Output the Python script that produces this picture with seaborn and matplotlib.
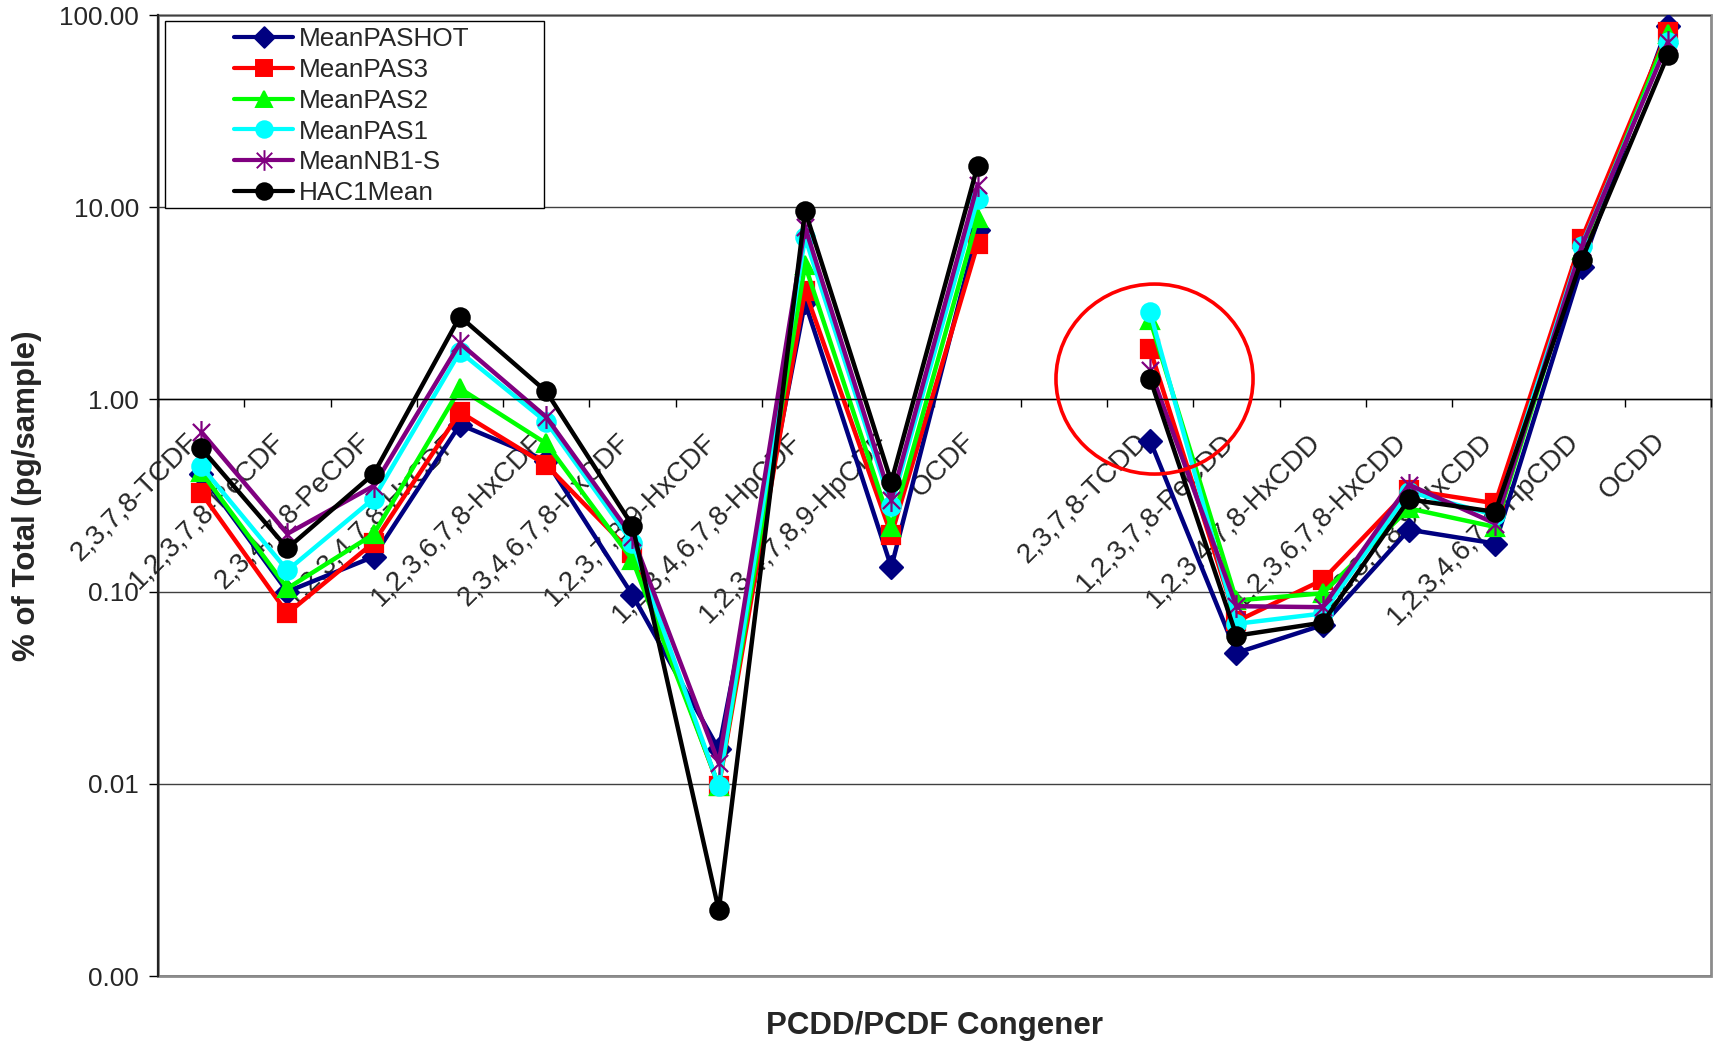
import numpy as np
import pandas as pd
import matplotlib
matplotlib.use("Agg")
import matplotlib.pyplot as plt
import matplotlib.transforms as mtransforms
from matplotlib.path import Path
from matplotlib.lines import Line2D
from matplotlib.patches import Ellipse, Rectangle
import seaborn as sns

sns.set_theme(style="white")
plt.rcParams["font.family"] = ["Liberation Sans", "DejaVu Sans"]

# congeners, with an empty slot between the furans and the dioxins
congeners = ["2,3,7,8-TCDF", "1,2,3,7,8-PeCDF", "2,3,4,7,8-PeCDF", "1,2,3,4,7,8-HxCDF",
             "1,2,3,6,7,8-HxCDF", "2,3,4,6,7,8-HxCDF", "1,2,3,7,8,9-HxCDF",
             "1,2,3,4,6,7,8-HpCDF", "1,2,3,4,7,8,9-HpCDF", "OCDF", "",
             "2,3,7,8-TCDD", "1,2,3,7,8-PeCDD", "1,2,3,4,7,8-HxCDD", "1,2,3,6,7,8-HxCDD",
             "1,2,3,7,8,9-HxCDD", "1,2,3,4,6,7,8-HpCDD", "OCDD"]
groups = ["PCDF"] * 10 + [""] + ["PCDD"] * 7

series = ["MeanPASHOT", "MeanPAS3", "MeanPAS2", "MeanPAS1", "MeanNB1-S", "HAC1Mean"]
nan = np.nan
pashot = [0.41, 0.10, 0.152, 0.74, 0.48, 0.096, 0.0151, 3.2, 0.134, 7.6, nan,
          0.61, 0.048, 0.067, 0.21, 0.178, 4.9, 88.0]
pas3 = [0.327, 0.077, 0.18, 0.86, 0.456, 0.158, 0.0097, 3.68, 0.197, 6.4, nan,
        1.82, 0.070, 0.115, 0.338, 0.288, 6.8, 82.0]
pas2 = [0.42, 0.104, 0.199, 1.14, 0.59, 0.146, 0.0098, 5.0, 0.217, 8.8, nan,
        2.59, 0.090, 0.098, 0.271, 0.217, 6.0, 80.0]
pas1 = [0.45, 0.129, 0.305, 1.77, 0.765, 0.18, 0.0097, 6.98, 0.28, 11.0, nan,
        2.84, 0.068, 0.077, 0.331, 0.25, 6.3, 72.6]
nb1s = [0.68, 0.20, 0.355, 1.96, 0.81, 0.193, 0.0128, 7.9, 0.30, 13.1, nan,
        1.42, 0.084, 0.083, 0.36, 0.226, 6.2, 72.0]
hac1 = [0.557, 0.168, 0.41, 2.7, 1.10, 0.22, 0.0022, 9.6, 0.373, 16.4, nan,
        1.28, 0.059, 0.069, 0.302, 0.26, 5.3, 61.8]

colors = ["#000080", "#FF0000", "#00FF00", "#00FFFF", "#800080", "#000000"]

# Excel style diamond and asterisk (custom paths are scaled to the marker size)
diamond = Path([(0, 1), (1, 0), (0, -1), (-1, 0), (0, 1)],
               [Path.MOVETO, Path.LINETO, Path.LINETO, Path.LINETO, Path.CLOSEPOLY])
star = Path([(0, -1), (0, 1), (-0.75, -0.75), (0.75, 0.75), (-0.75, 0.75), (0.75, -0.75)],
            [Path.MOVETO, Path.LINETO, Path.MOVETO, Path.LINETO, Path.MOVETO, Path.LINETO])
marker_list = [diamond, "s", "^", "o", star, "o"]
# the custom markers need a bigger nominal size to look as big as the others
marker_sizes = [16.5, 13.2, 13.2, 13.2, 16.5, 13.2]

rows = []
for name, vals in zip(series, [pashot, pas3, pas2, pas1, nb1s, hac1]):
    for i, v in enumerate(vals):
        if not np.isnan(v):
            rows.append({"series": name, "pos": i, "value": v, "group": groups[i]})
df = pd.DataFrame(rows)

fig = plt.figure(figsize=(17.19, 10.44), dpi=100)
ax = fig.add_axes([0.0919, 0.0651, 0.9034, 0.9205])

sns.lineplot(data=df, x="pos", y="value", hue="series", style="series", units="group",
             estimator=None, hue_order=series, style_order=series,
             palette=dict(zip(series, colors)), markers=dict(zip(series, marker_list)),
             dashes=False, linewidth=3.2, markersize=13, markeredgewidth=1.6,
             markeredgecolor=None, legend=False, ax=ax)

size_by_color = {matplotlib.colors.to_hex(c): s for c, s in zip(colors, marker_sizes)}
for line in ax.get_lines():
    key = matplotlib.colors.to_hex(line.get_color())
    if key in size_by_color:
        line.set_markersize(size_by_color[key])

ax.set_yscale("log")
ax.set_ylim(0.001, 100)
ax.set_xlim(-0.5, len(congeners) - 0.5)
yt = [0.001, 0.01, 0.1, 1, 10, 100]
ax.set_yticks(yt)
ax.set_yticklabels(["0.00", "0.01", "0.10", "1.00", "10.00", "100.00"])
ax.yaxis.set_minor_locator(matplotlib.ticker.NullLocator())
ax.tick_params(axis="y", which="major", direction="out", length=6.5, width=1,
               color="black", labelsize=18.8, pad=7, left=True)
ax.yaxis.grid(True, color="#404040", lw=1)
ax.xaxis.grid(False)
ax.set_axisbelow(True)

# category axis crosses at 1.00
ax.spines["bottom"].set_position(("data", 1.0))
ax.spines["bottom"].set_color("black")
ax.spines["bottom"].set_linewidth(1)
ax.spines["top"].set_visible(False)
ax.spines["right"].set_visible(False)
ax.spines["left"].set_color("#222222")
ax.spines["left"].set_linewidth(1.6)
ax.patch.set_edgecolor("#8c8c8c")
ax.patch.set_linewidth(2)

ax.set_xticks(range(len(congeners)))
ax.set_xticklabels(congeners, rotation=45, ha="right", va="top",
                   rotation_mode="anchor", fontsize=20)
ax.set_xticks(np.arange(-0.5, len(congeners)), minor=True)
ax.tick_params(axis="x", which="major", length=0, pad=21, bottom=True)
ax.tick_params(axis="x", which="minor", length=5.5, width=1, color="black",
               direction="out", bottom=True)
shift = mtransforms.ScaledTranslation(-0.16, 0, fig.dpi_scale_trans)
for lab in ax.get_xticklabels():
    lab.set_transform(lab.get_transform() + shift)

ax.set_xlabel("PCDD/PCDF Congener", fontsize=22.5, fontweight="bold")
ax.xaxis.set_label_coords(0.5, -0.0366)
ax.set_ylabel("% of Total (pg/sample)", fontsize=22.5, fontweight="bold")
ax.yaxis.set_label_coords(-0.075, 0.5)

# legend box
ax.add_patch(Rectangle((0.0045, 0.7995), 0.244, 0.194, transform=ax.transAxes,
                       facecolor="white", edgecolor="black", lw=1, zorder=4))
handles = [Line2D([], [], color=c, marker=m, markersize=s * 0.9, lw=3.0,
                  markeredgewidth=1.4, markeredgecolor=c)
           for c, m, s in zip(colors, marker_list, marker_sizes)]
leg = ax.legend(handles, series, loc="upper center", bbox_to_anchor=(0.125, 0.990),
                frameon=False, fontsize=18.8, handlelength=2.26, handletextpad=0.22,
                labelspacing=0.26, borderpad=0.1, borderaxespad=0)
leg.set_zorder(5)

# highlight ring around 2,3,7,8-TCDD
ax.add_patch(Ellipse((0.6417, 0.6212), 0.1269, 0.1977, transform=ax.transAxes,
                     facecolor="none", edgecolor="#FF0000", lw=2.6, zorder=6))

fig.savefig("out.png", dpi=100)
